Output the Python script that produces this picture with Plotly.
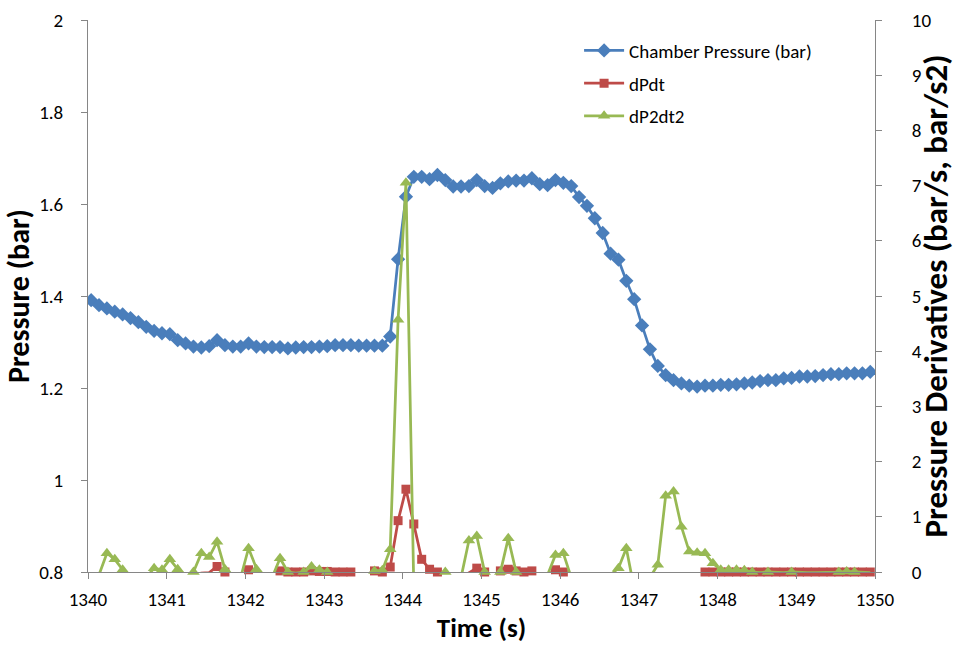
import plotly.graph_objects as go

# Sample times (s)
time_s = [
    1340.04, 1340.14, 1340.24, 1340.34, 1340.44, 1340.54, 1340.64, 1340.74, 1340.84, 1340.94,
    1341.04, 1341.14, 1341.24, 1341.34, 1341.44, 1341.54, 1341.64, 1341.74, 1341.84, 1341.94,
    1342.04, 1342.14, 1342.24, 1342.34, 1342.44, 1342.54, 1342.64, 1342.74, 1342.84, 1342.94,
    1343.04, 1343.14, 1343.24, 1343.34, 1343.44, 1343.54, 1343.64, 1343.74, 1343.84, 1343.94,
    1344.04, 1344.14, 1344.24, 1344.34, 1344.44, 1344.54, 1344.64, 1344.74, 1344.84, 1344.94,
    1345.04, 1345.14, 1345.24, 1345.34, 1345.44, 1345.54, 1345.64, 1345.74, 1345.84, 1345.94,
    1346.04, 1346.14, 1346.24, 1346.34, 1346.44, 1346.54, 1346.64, 1346.74, 1346.84, 1346.94,
    1347.04, 1347.14, 1347.24, 1347.34, 1347.44, 1347.54, 1347.64, 1347.74, 1347.84, 1347.94,
    1348.04, 1348.14, 1348.24, 1348.34, 1348.44, 1348.54, 1348.64, 1348.74, 1348.84, 1348.94,
    1349.04, 1349.14, 1349.24, 1349.34, 1349.44, 1349.54, 1349.64, 1349.74, 1349.84, 1349.94,
]

# Chamber pressure (bar)
pressure_bar = [
    1.391, 1.380, 1.373, 1.366, 1.360, 1.352, 1.343, 1.333, 1.324, 1.319,
    1.317, 1.304, 1.297, 1.290, 1.288, 1.291, 1.304, 1.293, 1.290, 1.290,
    1.297, 1.290, 1.289, 1.289, 1.289, 1.286, 1.288, 1.289, 1.289, 1.290,
    1.291, 1.293, 1.293, 1.293, 1.292, 1.292, 1.292, 1.292, 1.312, 1.480,
    1.616, 1.659, 1.659, 1.654, 1.663, 1.652, 1.638, 1.638, 1.639, 1.652,
    1.639, 1.635, 1.645, 1.649, 1.651, 1.651, 1.656, 1.643, 1.641, 1.652,
    1.646, 1.639, 1.615, 1.596, 1.569, 1.537, 1.492, 1.479, 1.433, 1.393,
    1.336, 1.284, 1.248, 1.228, 1.217, 1.210, 1.205, 1.203, 1.205, 1.205,
    1.207, 1.207, 1.208, 1.210, 1.212, 1.215, 1.217, 1.217, 1.221, 1.222,
    1.225, 1.225, 1.226, 1.228, 1.230, 1.230, 1.232, 1.232, 1.232, 1.235,
]

# First derivative (bar/s) - negative values fall below the axis minimum
dpdt = [
    -0.2, -0.2, -0.2, -0.2, -0.2, -0.2, -0.2, -0.2, -0.2, -0.2,
    -0.2, -0.2, -0.2, -0.2, -0.02, -0.01, 0.10, 0.0, -0.2, -0.1,
    0.04, -0.1, -0.2, -0.05, 0.02, 0.0, 0.0, 0.0, 0.02, 0.01,
    0.01, 0.0, 0.0, 0.0, -0.1, -0.05, 0.02, 0.0, 0.09, 0.93,
    1.50, 0.87, 0.23, 0.05, 0.0, -0.1, -0.2, -0.1, -0.02, 0.07,
    0.0, -0.1, 0.02, 0.05, 0.02, 0.0, 0.02, -0.1, -0.05, 0.04,
    0.0, -0.2, -0.5, -0.5, -0.5, -0.5, -0.5, -0.5, -0.5, -0.5,
    -0.5, -0.5, -0.5, -0.5, -0.5, -0.3, -0.2, -0.05, 0.0, 0.0,
    0.0, 0.0, 0.0, 0.0, 0.0, 0.0, 0.0, 0.0, 0.0, 0.0,
    0.0, 0.0, 0.0, 0.0, 0.0, 0.0, 0.0, 0.0, 0.0, 0.0,
]

# Second derivative (bar/s2)
dp2dt2 = [
    -0.3, -0.05, 0.34, 0.23, 0.04, -0.3, -0.4, -0.1, 0.07, 0.04,
    0.23, 0.05, -0.2, 0.0, 0.34, 0.27, 0.55, 0.05, -0.3, -0.1,
    0.43, 0.05, -0.3, -0.1, 0.25, 0.0, -0.02, 0.0, 0.10, 0.04,
    0.0, -0.2, -0.3, -0.2, -0.2, -0.05, 0.02, 0.03, 0.41, 4.57,
    7.05, -0.3, -1.0, -0.5, -0.1, 0.0, -0.2, -0.1, 0.57, 0.65,
    0.0, -0.1, 0.0, 0.61, 0.0, -0.2, -0.2, -0.2, -0.05, 0.31,
    0.34, -0.1, -0.3, -0.3, -0.3, -0.3, -0.05, 0.07, 0.43, -0.3,
    -0.5, -0.1, 0.13, 1.38, 1.46, 0.82, 0.37, 0.35, 0.34, 0.16,
    0.04, 0.04, 0.04, 0.03, 0.0, -0.01, 0.0, -0.01, -0.01, 0.0,
    -0.01, -0.01, -0.01, -0.01, -0.01, 0.0, 0.01, 0.0, -0.01, -0.01,
]

left_ticks = [0.8, 1.0, 1.2, 1.4, 1.6, 1.8, 2.0]
left_labels = ["0.8", "1", "1.2", "1.4", "1.6", "1.8", "2"]
right_ticks = [0, 1, 2, 3, 4, 5, 6, 7, 8, 9, 10]
x_ticks = [1340, 1341, 1342, 1343, 1344, 1345, 1346, 1347, 1348, 1349, 1350]

BLUE = "#4A7EBB"
RED = "#BE4B48"
GREEN = "#98B954"
AXIS = "#868686"
FONT = "Calibri, Carlito, Lato, sans-serif"

fig = go.Figure()
fig.add_trace(go.Scatter(
    x=time_s, y=pressure_bar, name="Chamber Pressure (bar)", mode="lines+markers",
    line=dict(color=BLUE, width=2.75), marker=dict(symbol="diamond", size=11, color=BLUE),
    yaxis="y", legendgroup="p",
))
fig.add_trace(go.Scatter(
    x=time_s, y=dpdt, name="dPdt", mode="lines+markers",
    line=dict(color=RED, width=2.75), marker=dict(symbol="square", size=9, color=RED),
    yaxis="y2", legendgroup="d1", cliponaxis=False,
))
fig.add_trace(go.Scatter(
    x=time_s, y=dp2dt2, name="dP2dt2", mode="lines+markers",
    line=dict(color=GREEN, width=2.75), marker=dict(symbol="triangle-up", size=11, color=GREEN),
    yaxis="y2", legendgroup="d2", cliponaxis=False,
))

axis_common = dict(
    showline=True, linecolor=AXIS, linewidth=1, ticks="outside", ticklen=6,
    tickcolor=AXIS, showgrid=False, zeroline=False,
    tickfont=dict(family=FONT, size=19, color="#000000"),
)

fig.update_layout(
    width=956, height=652,
    margin=dict(l=88, r=81, t=20, b=80, autoexpand=False),
    paper_bgcolor="white", plot_bgcolor="white",
    font=dict(family=FONT, color="#000000"),
    showlegend=True,
    legend=dict(
        x=0.624, y=0.979, xanchor="left", yanchor="top", itemwidth=40,
        bgcolor="rgba(0,0,0,0)", font=dict(family=FONT, size=19, color="#000000"),
        tracegroupgap=5,
    ),
    xaxis=dict(
        range=[1340, 1350], tickvals=x_ticks, ticklabelstandoff=4, automargin=False,
        title=dict(text="<b>Time (s)</b>", font=dict(family=FONT, size=27), standoff=8),
        **axis_common,
    ),
    yaxis=dict(
        range=[0.8, 2.0], tickvals=left_ticks, ticktext=left_labels, ticklabelstandoff=14,
        automargin=False,
        title=dict(text="<b>Pressure (bar)</b>", font=dict(family=FONT, size=30), standoff=10),
        **axis_common,
    ),
    yaxis2=dict(
        range=[0, 10], tickvals=right_ticks, overlaying="y", side="right", ticklabelstandoff=26,
        automargin=False,
        title=dict(text="<b>Pressure Derivatives (bar/s, bar/s2)</b>", font=dict(family=FONT, size=33), standoff=4),
        **axis_common,
    ),
)

fig.write_html("out.html")
